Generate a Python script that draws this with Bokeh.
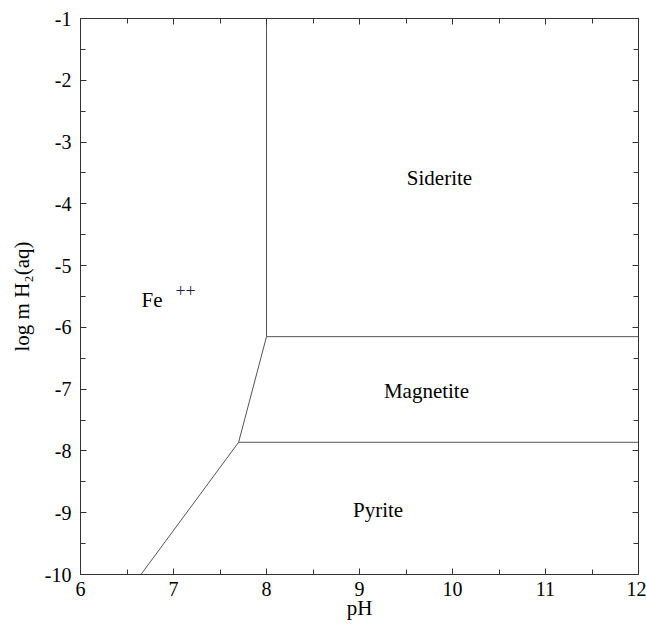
from bokeh.plotting import figure
from bokeh.models import (LinearAxis, Range1d, SingleIntervalTicker,
                          PrintfTickFormatter, CustomJSTickFormatter)
from bokeh.core.properties import value
from bokeh.embed import file_html
from bokeh.resources import INLINE

# Stability field boundaries (pH, log m H2(aq))
fe_siderite_ph = [8.0, 8.0]
fe_siderite_logm = [-1.0, -6.15]
fe_magnetite_ph = [8.0, 7.70]
fe_magnetite_logm = [-6.15, -7.86]
fe_pyrite_ph = [7.70, 6.65]
fe_pyrite_logm = [-7.86, -10.0]
siderite_magnetite_ph = [8.0, 12.0]
siderite_magnetite_logm = [-6.15, -6.15]
magnetite_pyrite_ph = [7.70, 12.0]
magnetite_pyrite_logm = [-7.86, -7.86]

# Field names and where they sit
field_names = ["Siderite", "Magnetite", "Pyrite", "Fe"]
field_ph = [9.86, 9.72, 9.20, 6.77]
field_logm = [-3.58, -7.03, -8.95, -5.55]
charge_text = ["++"]
charge_ph = [7.13]
charge_logm = [-5.40]

FONT = "Liberation Serif"

p = figure(width=646, height=628, output_backend="svg", toolbar_location=None,
           x_range=Range1d(6, 12), y_range=Range1d(-10, -1),
           min_border_left=80, min_border_right=8, min_border_top=18,
           min_border_bottom=54, background_fill_color="white",
           border_fill_color="white")
p.grid.visible = False
p.outline_line_color = "#333333"
p.outline_line_width = 1

def style_axis(ax, labels=True):
    ax.ticker = SingleIntervalTicker(interval=1, num_minor_ticks=2)
    ax.axis_line_color = "#333333"
    ax.major_tick_in = 6
    ax.major_tick_out = 0
    ax.minor_tick_in = 5
    ax.minor_tick_out = 0
    ax.major_tick_line_color = "#333333"
    ax.minor_tick_line_color = "#333333"
    ax.major_label_text_font = FONT
    ax.major_label_text_font_size = "20px"
    ax.major_label_text_color = "black"
    ax.axis_label_text_font = FONT
    ax.axis_label_text_font_size = "21px"
    ax.axis_label_text_font_style = "normal"
    ax.axis_label_text_color = "black"
    if labels:
        ax.formatter = PrintfTickFormatter(format="%d")
    else:
        ax.formatter = CustomJSTickFormatter(code="return ''")
        ax.major_label_standoff = 0

style_axis(p.xaxis[0])
style_axis(p.yaxis[0])
p.xaxis[0].axis_label = "pH"
p.xaxis[0].major_label_standoff = 7
p.xaxis[0].axis_label_standoff = -3
p.yaxis[0].axis_label = "log m H\u2082(aq)"
p.yaxis[0].major_label_standoff = 9
p.yaxis[0].axis_label_standoff = 8

right_ax = LinearAxis()
style_axis(right_ax, labels=False)
p.add_layout(right_ax, "right")
top_ax = LinearAxis()
style_axis(top_ax, labels=False)
p.add_layout(top_ax, "above")

line_kw = dict(line_color="#555555", line_width=1)
p.line(fe_siderite_ph, fe_siderite_logm, **line_kw)
p.line(fe_magnetite_ph, fe_magnetite_logm, **line_kw)
p.line(fe_pyrite_ph, fe_pyrite_logm, **line_kw)
p.line(siderite_magnetite_ph, siderite_magnetite_logm, **line_kw)
p.line(magnetite_pyrite_ph, magnetite_pyrite_logm, **line_kw)

p.text(field_ph, field_logm, text=field_names, text_font=value(FONT),
       text_font_size="21px", text_color="black",
       text_align="center", text_baseline="middle")
p.text(charge_ph, charge_logm, text=charge_text, text_font=value(FONT),
       text_font_size="18px", text_color="#222244",
       text_align="center", text_baseline="middle")

open("out.html", "w").write(file_html(p, INLINE))
